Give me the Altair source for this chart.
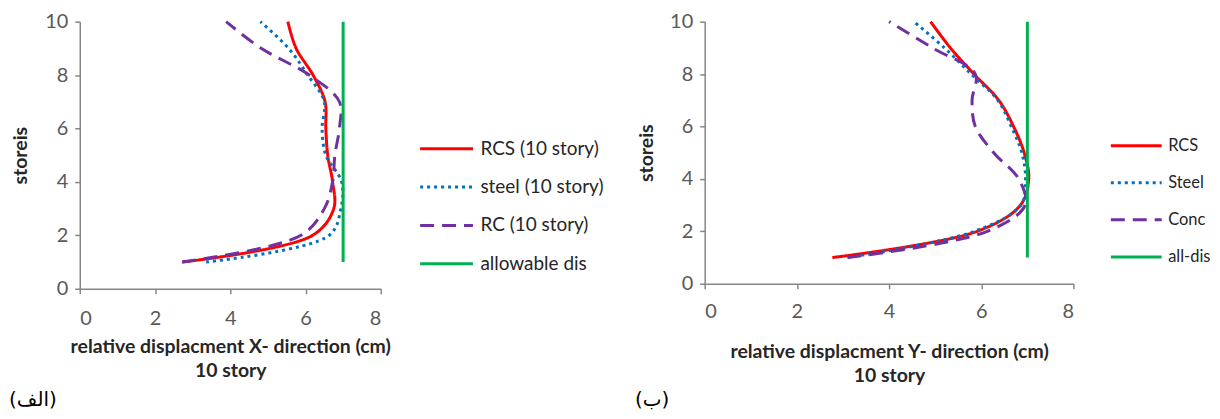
import altair as alt
import pandas as pd

# ---------------- data ----------------
storeys = [1, 2, 3, 4, 5, 6, 7, 8, 9, 10]
allow_storeys = [1, 10]

# X-direction (panel الف)
names_x = ["RCS (10 story)", "steel (10 story)", "RC (10 story)", "allowable dis"]
rcs_x = [2.72, 6.19, 6.75, 6.72, 6.59, 6.54, 6.52, 6.2, 5.75, 5.53]
steel_x = [3.36, 6.63, 6.94, 6.96, 6.54, 6.44, 6.5, 6.06, 5.55, 4.8]
rc_x = [2.72, 5.88, 6.5, 6.72, 6.78, 6.9, 6.9, 6.1, 4.82, 3.89]
allow_x = [7.0, 7.0]

# Y-direction (panel ب)
names_y = ["RCS", "Steel", "Conc", "all-dis"]
rcs_y = [2.77, 5.91, 6.85, 7.03, 6.93, 6.7, 6.38, 5.84, 5.33, 4.9]
steel_y = [3.1, 5.85, 6.86, 6.96, 6.88, 6.65, 6.36, 5.78, 5.2, 4.54]
conc_y = [3.1, 6.13, 6.95, 6.81, 6.27, 5.87, 5.8, 5.87, 4.94, 4.0]
allow_y = [7.0, 7.0]

colors = ["#FF0000", "#0070C0", "#7030A0", "#00B050"]
dashes = [[1, 0], [3, 4], [14, 8], [1, 0]]


def long_df(names, series):
    rows = []
    for name, (st, vals) in zip(names, series):
        for s, v in zip(st, vals):
            rows.append({"series": name, "storey": s, "disp": v})
    return pd.DataFrame(rows)


df_x = long_df(names_x, [(storeys, rcs_x), (storeys, steel_x), (storeys, rc_x), (allow_storeys, allow_x)])
df_y = long_df(names_y, [(storeys, rcs_y), (storeys, steel_y), (storeys, conc_y), (allow_storeys, allow_y)])

FONT = "Lato"


def panel(df, names, xtitle, w, h, legx, legy, leg_font, leg_row, leg_off, sym_len,
          xlabel_pad, xtitle_pad, ytitle_pad, tag, tag_x, tag_y):
    leg = alt.Legend(
        orient="none", legendX=legx, legendY=legy, title=None,
        symbolType="stroke", symbolSize=sym_len * sym_len, symbolStrokeWidth=3,
        labelFont=FONT, labelFontSize=leg_font, labelColor="#262626",
        rowPadding=leg_row, clipHeight=19, labelOffset=leg_off, padding=0,
    )
    lines = alt.Chart(df).mark_line(
        strokeWidth=3, interpolate="catmull-rom", strokeCap="butt"
    ).encode(
        x=alt.X("disp:Q", scale=alt.Scale(domain=[0, 8], nice=False),
                axis=alt.Axis(values=[0, 2, 4, 6, 8], title=xtitle,
                              titlePadding=xtitle_pad, labelPadding=xlabel_pad)),
        y=alt.Y("storey:Q", scale=alt.Scale(domain=[0, 10], nice=False),
                axis=alt.Axis(values=[0, 2, 4, 6, 8, 10], title="storeis",
                              labelPadding=7, titlePadding=ytitle_pad)),
        color=alt.Color("series:N", scale=alt.Scale(domain=names, range=colors), legend=leg),
        strokeDash=alt.StrokeDash("series:N", scale=alt.Scale(domain=names, range=dashes), legend=leg),
        order="storey:Q",
    )
    label = alt.Chart(pd.DataFrame({"t": [tag]})).mark_text(
        font="DejaVu Sans", fontSize=20, color="#000000", align="left", baseline="middle"
    ).encode(text="t:N", x=alt.value(tag_x), y=alt.value(tag_y))
    return alt.layer(lines, label).properties(width=w, height=h)


left = panel(df_x, names_x, ["relative displacment X- direction (cm)", "10 story"],
             302, 268, 340, 118, 19, 18.5, 6, 53, 15, 9, 14, "(الف)", -71, 380)
right = panel(df_y, names_y, ["relative displacment Y- direction (cm)", "10 story"],
              370, 263, 406, 115, 16.5, 18.2, 5, 51, 13, 21, 13, "(ب)", -70, 380)

chart = alt.hconcat(left, right, spacing=325, bounds="flush").resolve_scale(
    color="independent", strokeDash="independent"
).properties(
    padding={"left": 0, "top": 2, "right": 0, "bottom": 0}
).configure_axis(
    grid=False, domainColor="#868686", tickColor="#868686", domainWidth=1.5, tickWidth=1.5,
    tickSize=5, labelFont=FONT, labelFontSize=20, labelColor="#595959",
    titleFont=FONT, titleFontSize=19.5, titleFontWeight="bold", titleColor="#262626",
    titleLineHeight=24,
).configure_view(stroke="transparent")

chart.save("out.html", embed_options={"renderer": "svg", "actions": False})
